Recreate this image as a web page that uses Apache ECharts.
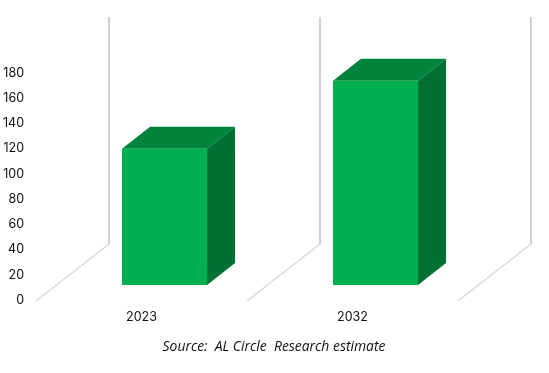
<!DOCTYPE html>
<html>
<head>
<meta charset="utf-8">
<style>
  html, body { margin: 0; padding: 0; background: #fff; }
  #chart { width: 549px; height: 373px; }
</style>
<script src="https://cdn.jsdelivr.net/npm/echarts@6/dist/echarts.min.js"></script>
</head>
<body>
<div id="chart"></div>
<script>
const categories = ['2023', '2032']
const values = [108, 162]
const wallEdges = [-0.5, 0.5, 1.5]
const yMax = 180
const sourceText = 'Source:  AL Circle  Research estimate'

// fake 3d offsets, px
const floorDepth = [73, -56]
const barShift = [23, -15]
const barDepth = [28, -22]
const barRatio = 0.403

var myChart = echarts.init(document.getElementById('chart'))

function renderWall(params, api) {
  const p0 = api.coord([api.value(0), 0])
  const p1 = api.coord([api.value(0), yMax])
  const back = [p0[0] + floorDepth[0], p0[1] + floorDepth[1]]
  const top = [p1[0] + floorDepth[0], p1[1] + floorDepth[1]]
  return {
    type: 'group',
    children: [
      {
        type: 'line',
        shape: { x1: p0[0], y1: p0[1] + 1, x2: back[0], y2: back[1] },
        style: { stroke: '#d9d9d9', lineWidth: 1.5 },
      },
      {
        type: 'line',
        shape: { x1: back[0], y1: back[1], x2: top[0], y2: top[1] },
        style: { stroke: '#d0d0d0', lineWidth: 2 },
      },
    ],
  }
}

function renderBar(params, api) {
  const base = api.coord([api.value(0), 0])
  const head = api.coord([api.value(0), api.value(1)])
  const w = api.size([1, 0])[0] * barRatio
  const x0 = base[0] - w / 2 + barShift[0]
  const x1 = x0 + w
  const yb = base[1] + barShift[1]
  const yt = head[1] + barShift[1]
  const dx = barDepth[0]
  const dy = barDepth[1]
  return {
    type: 'group',
    children: [
      {
        type: 'polygon',
        shape: { points: [[x0, yt], [x0 + dx, yt + dy], [x1 + dx, yt + dy], [x1, yt]] },
        style: { fill: '#00833b' },
      },
      {
        type: 'polygon',
        shape: { points: [[x1, yt], [x1 + dx, yt + dy], [x1 + dx, yb + dy], [x1, yb]] },
        style: { fill: '#007033' },
      },
      {
        type: 'rect',
        shape: { x: x0, y: yt, width: w, height: yb - yt },
        style: { fill: '#00b050' },
      },
    ],
  }
}

const option = {
  animation: false,
  backgroundColor: '#fff',
  title: {
    text: sourceText,
    left: 269,
    textAlign: 'center',
    top: 335,
    textStyle: {
      fontFamily: 'Open Sans',
      fontStyle: 'italic',
      fontWeight: 'normal',
      fontSize: 13.9,
      color: '#111',
    },
  },
  grid: { left: 36, right: 91, top: 73, bottom: 73 },
  xAxis: [
    {
      type: 'category',
      data: categories,
      axisLine: { show: false },
      axisTick: { show: false },
      axisLabel: { margin: 11, fontFamily: 'Inter', fontSize: 12.5, color: '#111' },
    },
    // same span as the bands, only used to place the wall edges
    { type: 'value', min: -0.5, max: 1.5, show: false },
  ],
  yAxis: {
    type: 'value',
    min: 0,
    max: yMax,
    interval: 20,
    axisLine: { show: false },
    axisTick: { show: false },
    splitLine: { show: false },
    axisLabel: { margin: 12, fontFamily: 'Inter', fontSize: 12.5, color: '#111' },
  },
  series: [
    {
      type: 'custom',
      renderItem: renderWall,
      clip: false,
      xAxisIndex: 1,
      data: wallEdges.map((e) => [e]),
      encode: { x: 0 },
    },
    {
      type: 'custom',
      renderItem: renderBar,
      clip: false,
      data: categories.map((c, i) => [i, values[i]]),
      encode: { x: 0, y: 1 },
    },
  ],
}

myChart.setOption(option)
</script>
</body>
</html>
